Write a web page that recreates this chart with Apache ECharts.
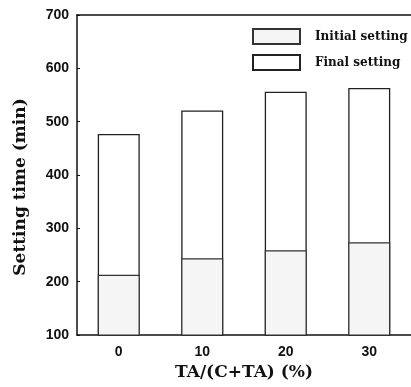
<!DOCTYPE html>
<html>
<head>
<meta charset="utf-8">
<script src="https://cdn.jsdelivr.net/npm/echarts@6/dist/echarts.min.js"></script>
<style>
  html, body { margin: 0; padding: 0; background: #fff; }
  #chart { width: 411px; height: 387px; }
</style>
</head>
<body>
<div id="chart"></div>
<script>
// data
var categories = ['0', '10', '20', '30'];
var initialSetting = [213, 244, 259, 274];
var finalSetting = [477, 521, 556, 563];
var yTicks = [100, 200, 300, 400, 500, 600, 700];

var myChart = echarts.init(document.getElementById('chart'));

var serif = 'DejaVu Serif';
var sans = 'Liberation Sans';

option = {
    animation: false,
    backgroundColor: '#fff',
    grid: {
        left: 77,
        top: 15,
        width: 336,
        height: 320
    },
    legend: {
        data: ['Initial setting', 'Final setting'],
        orient: 'vertical',
        left: 252,
        top: 28,
        padding: 0,
        itemWidth: 47,
        itemHeight: 15,
        itemGap: 9,
        icon: 'rect',
        textStyle: {
            fontFamily: serif,
            fontWeight: 'bold',
            fontSize: 12,
            color: '#111',
            padding: [0, 0, 0, 10]
        }
    },
    xAxis: [{
        type: 'category',
        data: categories,
        name: 'TA/(C+TA) (%)',
        nameLocation: 'middle',
        nameGap: 24,
        nameTextStyle: {
            fontFamily: serif,
            fontWeight: 'bold',
            fontSize: 17,
            color: '#111'
        },
        axisLine: { lineStyle: { color: '#111', width: 1.5 } },
        axisTick: { show: false },
        axisLabel: {
            fontFamily: sans,
            fontWeight: 'bold',
            fontSize: 14,
            color: '#111',
            margin: 10
        }
    }, {
        // top frame line only
        type: 'category',
        data: categories,
        position: 'top',
        axisLine: { lineStyle: { color: '#111', width: 1.5 } },
        axisTick: { show: false },
        axisLabel: { show: false }
    }],
    yAxis: {
        type: 'value',
        min: yTicks[0],
        max: yTicks[yTicks.length - 1],
        interval: 100,
        name: 'Setting time (min)',
        nameLocation: 'middle',
        nameGap: 48,
        nameTextStyle: {
            fontFamily: serif,
            fontWeight: 'bold',
            fontSize: 17,
            color: '#111',
            padding: [0, 24, 0, 0]
        },
        splitLine: { show: false },
        axisLine: { show: true, lineStyle: { color: '#111', width: 1.5 } },
        axisTick: { show: true, inside: true, length: 3, lineStyle: { color: '#111' } },
        axisLabel: {
            fontFamily: sans,
            fontWeight: 'bold',
            fontSize: 14,
            color: '#111',
            margin: 8
        }
    },
    series: [
        {
            name: 'Final setting',
            type: 'bar',
            data: finalSetting,
            barWidth: 42,
            barGap: '-100%',
            itemStyle: {
                color: '#fff',
                borderColor: '#222',
                borderWidth: 1.3
            }
        },
        {
            name: 'Initial setting',
            type: 'bar',
            data: initialSetting,
            barWidth: 42,
            itemStyle: {
                color: '#f5f5f5',
                borderColor: '#333',
                borderWidth: 1.2
            }
        }
    ]
};

myChart.setOption(option);
</script>
</body>
</html>
